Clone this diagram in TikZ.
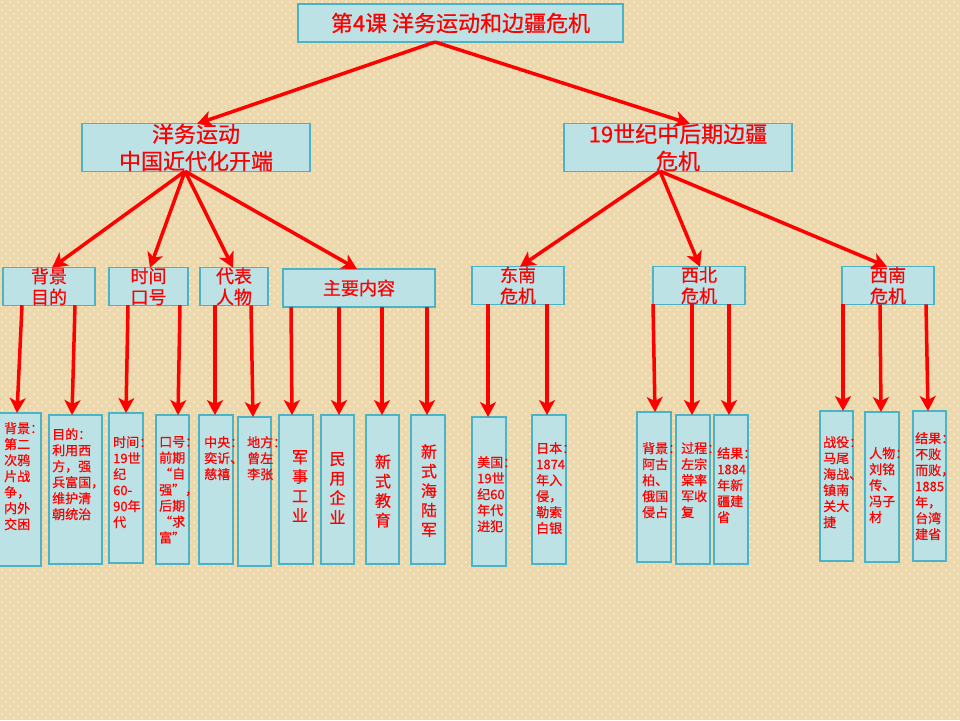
\documentclass[tikz,border=0pt]{standalone}
\usepackage{fontspec}
\setmainfont{Noto Sans CJK SC}[FakeBold=0.6]
\usetikzlibrary{arrows.meta}
\definecolor{bgtan}{HTML}{EDD8AB}
\definecolor{boxfill}{HTML}{BCE2E5}
\definecolor{boxline}{HTML}{4AB4C6}
\begin{document}
\begin{tikzpicture}[x=1pt,y=-1pt,
  box/.style={draw=boxline, fill=boxfill, line width=1.2pt, inner sep=0pt, outer sep=0pt, text=red, align=center},
  title/.style={font=\fontsize{22}{27}\selectfont},
  midtext/.style={font=\fontsize{18}{21}\selectfont},
  ltext/.style={anchor=north west, inner sep=0pt, align=left, text=red, font=\fontsize{13}{16}\selectfont},
  btext/.style={anchor=north, inner sep=0pt, align=center, text=red, font=\fontsize{16}{19.5}\selectfont},
  dotrow/.style={draw=white, line width=1.5pt, line cap=round, dash pattern=on 0pt off 8pt},
  arr/.style={draw=red, line width=3.5pt, -{Stealth[length=15pt,width=16pt,inset=4pt]}}]
\useasboundingbox (0,0) rectangle (960,720);
\fill[bgtan] (0,0) rectangle (960,720);
\foreach \r in {0,...,180}{
  \pgfmathsetmacro\off{mod(\r,2)*4+2}
  \draw[dotrow] (\off,\r*4+2) -- (962,\r*4+2);
}

% top and second level
\node[box, title, minimum width=325pt, minimum height=38pt] (T) at (460.5,23) {第4课 洋务运动和边疆危机};
\node[box, title, minimum width=228pt, minimum height=45pt] (L) at (196,147.5) {洋务运动\\中国近代化开端};
\node[box, title, minimum width=228pt, minimum height=45pt] (R) at (678,147.5) {19世纪中后期边疆\\危机};

% third level
\node[box, midtext, minimum width=92pt, minimum height=37pt] (bj) at (49,286.5) {背景\\目的};
\node[box, midtext, minimum width=79pt, minimum height=37pt] (sj) at (148.5,286.5) {时间\\口号};
\node[box, midtext, minimum width=68pt, minimum height=37pt] (db) at (234,286.5) {代表\\人物};
\node[box, midtext, minimum width=152pt, minimum height=38pt] (zy) at (359,288) {主要内容};
\node[box, midtext, minimum width=92pt, minimum height=37pt] (dn) at (518,285.5) {东南\\危机};
\node[box, midtext, minimum width=92pt, minimum height=37pt] (xb) at (699,285.5) {西北\\危机};
\node[box, midtext, minimum width=92pt, minimum height=37pt] (xn) at (888,285.5) {西南\\危机};

% leaves
\node[box, minimum width=51pt, minimum height=153pt] (l1) at (15.5,489.5) {};
\node[box, minimum width=53pt, minimum height=149pt] (l2) at (75.5,489.5) {};
\node[box, minimum width=34pt, minimum height=150pt] (l3) at (126,488) {};
\node[box, minimum width=33pt, minimum height=149pt] (l4) at (172.5,489.5) {};
\node[box, minimum width=34pt, minimum height=149pt] (l5) at (216,489.5) {};
\node[box, minimum width=33pt, minimum height=149pt] (l6) at (254.5,491.5) {};
\node[box, minimum width=34pt, minimum height=149pt] (l7) at (296,489.5) {};
\node[box, minimum width=33pt, minimum height=149pt] (l8) at (337.5,489.5) {};
\node[box, minimum width=33pt, minimum height=149pt] (l9) at (382.5,489.5) {};
\node[box, minimum width=34pt, minimum height=149pt] (l10) at (428,489.5) {};
\node[box, minimum width=34pt, minimum height=149pt] (l11) at (489,491.5) {};
\node[box, minimum width=34pt, minimum height=149pt] (l12) at (549,489.5) {};
\node[box, minimum width=34pt, minimum height=150pt] (l13) at (654,487) {};
\node[box, minimum width=34pt, minimum height=149pt] (l14) at (693,489.5) {};
\node[box, minimum width=34pt, minimum height=149pt] (l15) at (731,489.5) {};
\node[box, minimum width=33pt, minimum height=150pt] (l16) at (836.5,486) {};
\node[box, minimum width=34pt, minimum height=150pt] (l17) at (882,487) {};
\node[box, minimum width=33pt, minimum height=150pt] (l18) at (929.5,486) {};

% leaf texts
\node[ltext] (t1) at (4,422) {背景：\\第二\\次鸦\\片战\\争，\\内外\\交困};
\node[ltext] (t2) at (52,428) {目的：\\利用西\\方，强\\兵富国，\\维护清\\朝统治};
\node[ltext] (t3) at (113,436) {时间：\\19世\\纪\\60-\\90年\\代};
\node[ltext] (t4) at (159,436) {口号：\\前期\\“自\\强”，\\后期\\“求\\富”};
\node[ltext] (t5) at (204,436) {中央：\\奕䜣、\\慈禧};
\node[ltext] (t6) at (247,436) {地方：\\曾左\\李张};
\node[btext] (t7) at (300,450) {军\\事\\工\\业};
\node[btext] (t8) at (337.5,452) {民\\用\\企\\业};
\node[btext] (t9) at (383,454) {新\\式\\教\\育};
\node[btext] (t10) at (429,444) {新\\式\\海\\陆\\军};
\node[ltext] (t11) at (477,456) {美国：\\19世\\纪60\\年代\\进犯};
\node[ltext] (t12) at (536,442) {日本：\\1874\\年入\\侵，\\勒索\\白银};
\node[ltext] (t13) at (642,442) {背景：\\阿古\\柏、\\俄国\\侵占};
\node[ltext] (t14) at (681,442) {过程：\\左宗\\棠率\\军收\\复};
\node[ltext] (t15) at (717,447) {结果：\\1884\\年新\\疆建\\省};
\node[ltext] (t16) at (823,436) {战役：\\马尾\\海战、\\镇南\\关大\\捷};
\node[ltext] (t17) at (869,447) {人物：\\刘铭\\传、\\冯子\\材};
\node[ltext] (t18) at (915,432) {结果：\\不败\\而败，\\1885\\年，\\台湾\\建省};

% arrows level 1 -> 2
\draw[arr] ([xshift=-25.5pt]T.south) -- ([xshift=1pt]L.north);
\draw[arr] ([xshift=-25.5pt]T.south) -- ([xshift=12pt]R.north);

% arrows level 2 -> 3
\draw[arr] ([xshift=-11pt]L.south) -- ([xshift=3pt]bj.north);
\draw[arr] ([xshift=-11pt]L.south) -- ([xshift=1.5pt]sj.north);
\draw[arr] ([xshift=-11pt]L.south) -- ([xshift=-1pt]db.north);
\draw[arr] ([xshift=-11pt]L.south) -- ([xshift=-2pt]zy.north);
\draw[arr] ([xshift=-18pt]R.south) -- ([xshift=2pt]dn.north);
\draw[arr] ([xshift=-18pt]R.south) -- ([xshift=1pt]xb.north);
\draw[arr] ([xshift=-18pt]R.south) -- ([xshift=-1pt]xn.north);

% arrows level 3 -> leaves
\draw[arr] ([xshift=19pt]bj.south west) -- ([xshift=1.5pt]l1.north);
\draw[arr] ([xshift=72pt]bj.south west) -- ([xshift=-3.5pt]l2.north);
\draw[arr] ([xshift=19pt]sj.south west) -- (l3.north);
\draw[arr] ([xshift=71pt]sj.south west) -- ([xshift=5.5pt]l4.north);
\draw[arr] ([xshift=15pt]db.south west) -- ([xshift=-1pt]l5.north);
\draw[arr] ([xshift=51pt]db.south west) -- ([xshift=-1.5pt]l6.north);
\draw[arr] ([xshift=8pt]zy.south west) -- ([xshift=-4pt]l7.north);
\draw[arr] ([xshift=56pt]zy.south west) -- ([xshift=1.5pt]l8.north);
\draw[arr] ([xshift=99pt]zy.south west) -- ([xshift=-0.5pt]l9.north);
\draw[arr] ([xshift=144pt]zy.south west) -- ([xshift=-1pt]l10.north);
\draw[arr] ([xshift=16pt]dn.south west) -- ([xshift=-1pt]l11.north);
\draw[arr] ([xshift=75pt]dn.south west) -- ([xshift=-2pt]l12.north);
\draw[arr] ([xshift=0pt]xb.south west) -- ([xshift=1pt]l13.north);
\draw[arr] ([xshift=39pt]xb.south west) -- ([xshift=-1pt]l14.north);
\draw[arr] ([xshift=76pt]xb.south west) -- ([xshift=-2pt]l15.north);
\draw[arr] ([xshift=1pt]xn.south west) -- ([xshift=6.5pt]l16.north);
\draw[arr] ([xshift=38pt]xn.south west) -- ([xshift=-1pt]l17.north);
\draw[arr] ([xshift=84pt]xn.south west) -- ([xshift=-1.5pt]l18.north);
\end{tikzpicture}
\end{document}
